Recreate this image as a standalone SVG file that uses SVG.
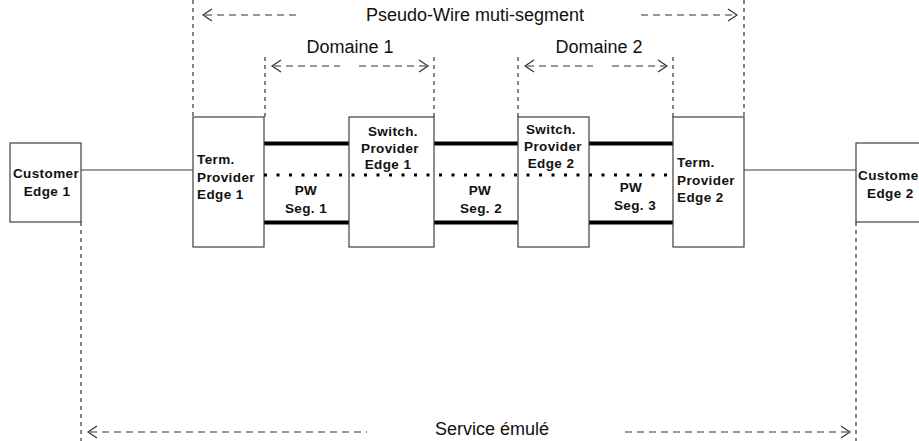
<svg xmlns="http://www.w3.org/2000/svg" width="919" height="441" viewBox="0 0 919 441">
<style>
.box{fill:#fff;stroke:#404040;stroke-width:1.2}
.lbl{font-family:"Liberation Sans",Arial,sans-serif;font-size:13.5px;font-weight:bold;letter-spacing:0.4px;fill:#111}
.ttl{font-family:"Liberation Sans",Arial,sans-serif;font-size:18px;fill:#111}
.vd{stroke:#333;stroke-width:1.2;stroke-dasharray:4 4;fill:none}
.hd{stroke:#333;stroke-width:1.2;stroke-dasharray:7 5;fill:none}
.chev{stroke:#333;stroke-width:1.2;fill:none}
.thin{stroke:#404040;stroke-width:1.2;fill:none}
.thick{stroke:#000;stroke-width:4;fill:none}
.dot{stroke:#000;stroke-width:3;stroke-dasharray:3 9.5;fill:none}
</style>
<rect width="919" height="441" fill="#fff"/>
<g id="connectors">
<line class="thin" x1="81" y1="170" x2="193" y2="170"/>
<line class="thin" x1="744" y1="170" x2="856" y2="170"/>
<line class="thick" x1="264" y1="143.5" x2="349" y2="143.5"/>
<line class="thick" x1="434" y1="143.5" x2="518" y2="143.5"/>
<line class="thick" x1="589" y1="143.5" x2="673" y2="143.5"/>
<line class="thick" x1="264" y1="222.5" x2="349" y2="222.5"/>
<line class="thick" x1="434" y1="222.5" x2="518" y2="222.5"/>
<line class="thick" x1="589" y1="222.5" x2="673" y2="222.5"/>
</g>
<g id="ce1"><rect class="box" x="10" y="143" width="71" height="79"/>
<text class="lbl" x="46" y="178" text-anchor="middle">Customer</text>
<text class="lbl" x="47" y="196" text-anchor="middle">Edge 1</text></g>
<g id="tpe1"><rect class="box" x="193" y="117" width="71" height="130"/>
<text class="lbl" x="197" y="164">Term.</text>
<text class="lbl" x="197" y="182">Provider</text>
<text class="lbl" x="197" y="199">Edge 1</text></g>
<g id="spe1"><rect class="box" x="349" y="117" width="85" height="130"/>
<text class="lbl" x="393" y="136" text-anchor="middle">Switch.</text>
<text class="lbl" x="390" y="153" text-anchor="middle">Provider</text>
<text class="lbl" x="388" y="169" text-anchor="middle">Edge 1</text></g>
<g id="spe2"><rect class="box" x="518" y="117" width="71" height="130"/>
<text class="lbl" x="551" y="134" text-anchor="middle">Switch.</text>
<text class="lbl" x="553" y="151" text-anchor="middle">Provider</text>
<text class="lbl" x="551" y="168" text-anchor="middle">Edge 2</text></g>
<g id="tpe2"><rect class="box" x="673" y="117" width="71" height="130"/>
<text class="lbl" x="677" y="167">Term.</text>
<text class="lbl" x="677" y="185">Provider</text>
<text class="lbl" x="677" y="202">Edge 2</text></g>
<g id="ce2"><rect class="box" x="856" y="143" width="72" height="79"/>
<text class="lbl" x="858" y="180">Custome</text>
<text class="lbl" x="867" y="198">Edge 2</text></g>
<g id="pw-dotted"><line class="dot" x1="264" y1="175" x2="675" y2="175"/></g>
<g id="seg1"><text class="lbl" x="306" y="195" text-anchor="middle">PW</text>
<text class="lbl" x="306" y="213" text-anchor="middle">Seg. 1</text></g>
<g id="seg2"><text class="lbl" x="480" y="195" text-anchor="middle">PW</text>
<text class="lbl" x="481" y="213" text-anchor="middle">Seg. 2</text></g>
<g id="seg3"><text class="lbl" x="631" y="192" text-anchor="middle">PW</text>
<text class="lbl" x="635" y="210" text-anchor="middle">Seg. 3</text></g>
<g id="pw-span">
<line class="vd" x1="193" y1="0" x2="193" y2="117"/>
<line class="vd" x1="744" y1="0" x2="744" y2="117"/>
<polyline class="chev" points="212,9 203,15 212,21"/>
<line class="hd" x1="205" y1="15" x2="298" y2="15"/>
<line class="hd" x1="641" y1="15" x2="735" y2="15"/>
<polyline class="chev" points="728,9 737,15 728,21"/>
<text class="ttl" x="475" y="21" text-anchor="middle">Pseudo-Wire muti-segment</text>
</g>
<g id="domaine1">
<line class="vd" x1="265" y1="57" x2="265" y2="117"/>
<line class="vd" x1="434" y1="57" x2="434" y2="117"/>
<polyline class="chev" points="281,60 272,66 281,72"/>
<line class="hd" x1="274" y1="66" x2="340" y2="66"/>
<line class="hd" x1="359" y1="66" x2="426" y2="66"/>
<polyline class="chev" points="419,60 428,66 419,72"/>
<text class="ttl" x="350" y="53" text-anchor="middle">Domaine 1</text>
</g>
<g id="domaine2">
<line class="vd" x1="518" y1="57" x2="518" y2="117"/>
<line class="vd" x1="673" y1="57" x2="673" y2="117"/>
<polyline class="chev" points="534,60 525,66 534,72"/>
<line class="hd" x1="527" y1="66" x2="593" y2="66"/>
<line class="hd" x1="612" y1="66" x2="665" y2="66"/>
<polyline class="chev" points="658,60 667,66 658,72"/>
<text class="ttl" x="599" y="53" text-anchor="middle">Domaine 2</text>
</g>
<g id="service">
<line class="vd" x1="81" y1="222" x2="81" y2="441"/>
<line class="vd" x1="856" y1="222" x2="856" y2="441"/>
<polyline class="chev" points="97,426 88,432 97,438"/>
<line class="hd" x1="90" y1="432" x2="367" y2="432"/>
<line class="hd" x1="625" y1="432" x2="848" y2="432"/>
<polyline class="chev" points="841,426 850,432 841,438"/>
<text class="ttl" x="492" y="435" text-anchor="middle">Service émulé</text>
</g>
</svg>
